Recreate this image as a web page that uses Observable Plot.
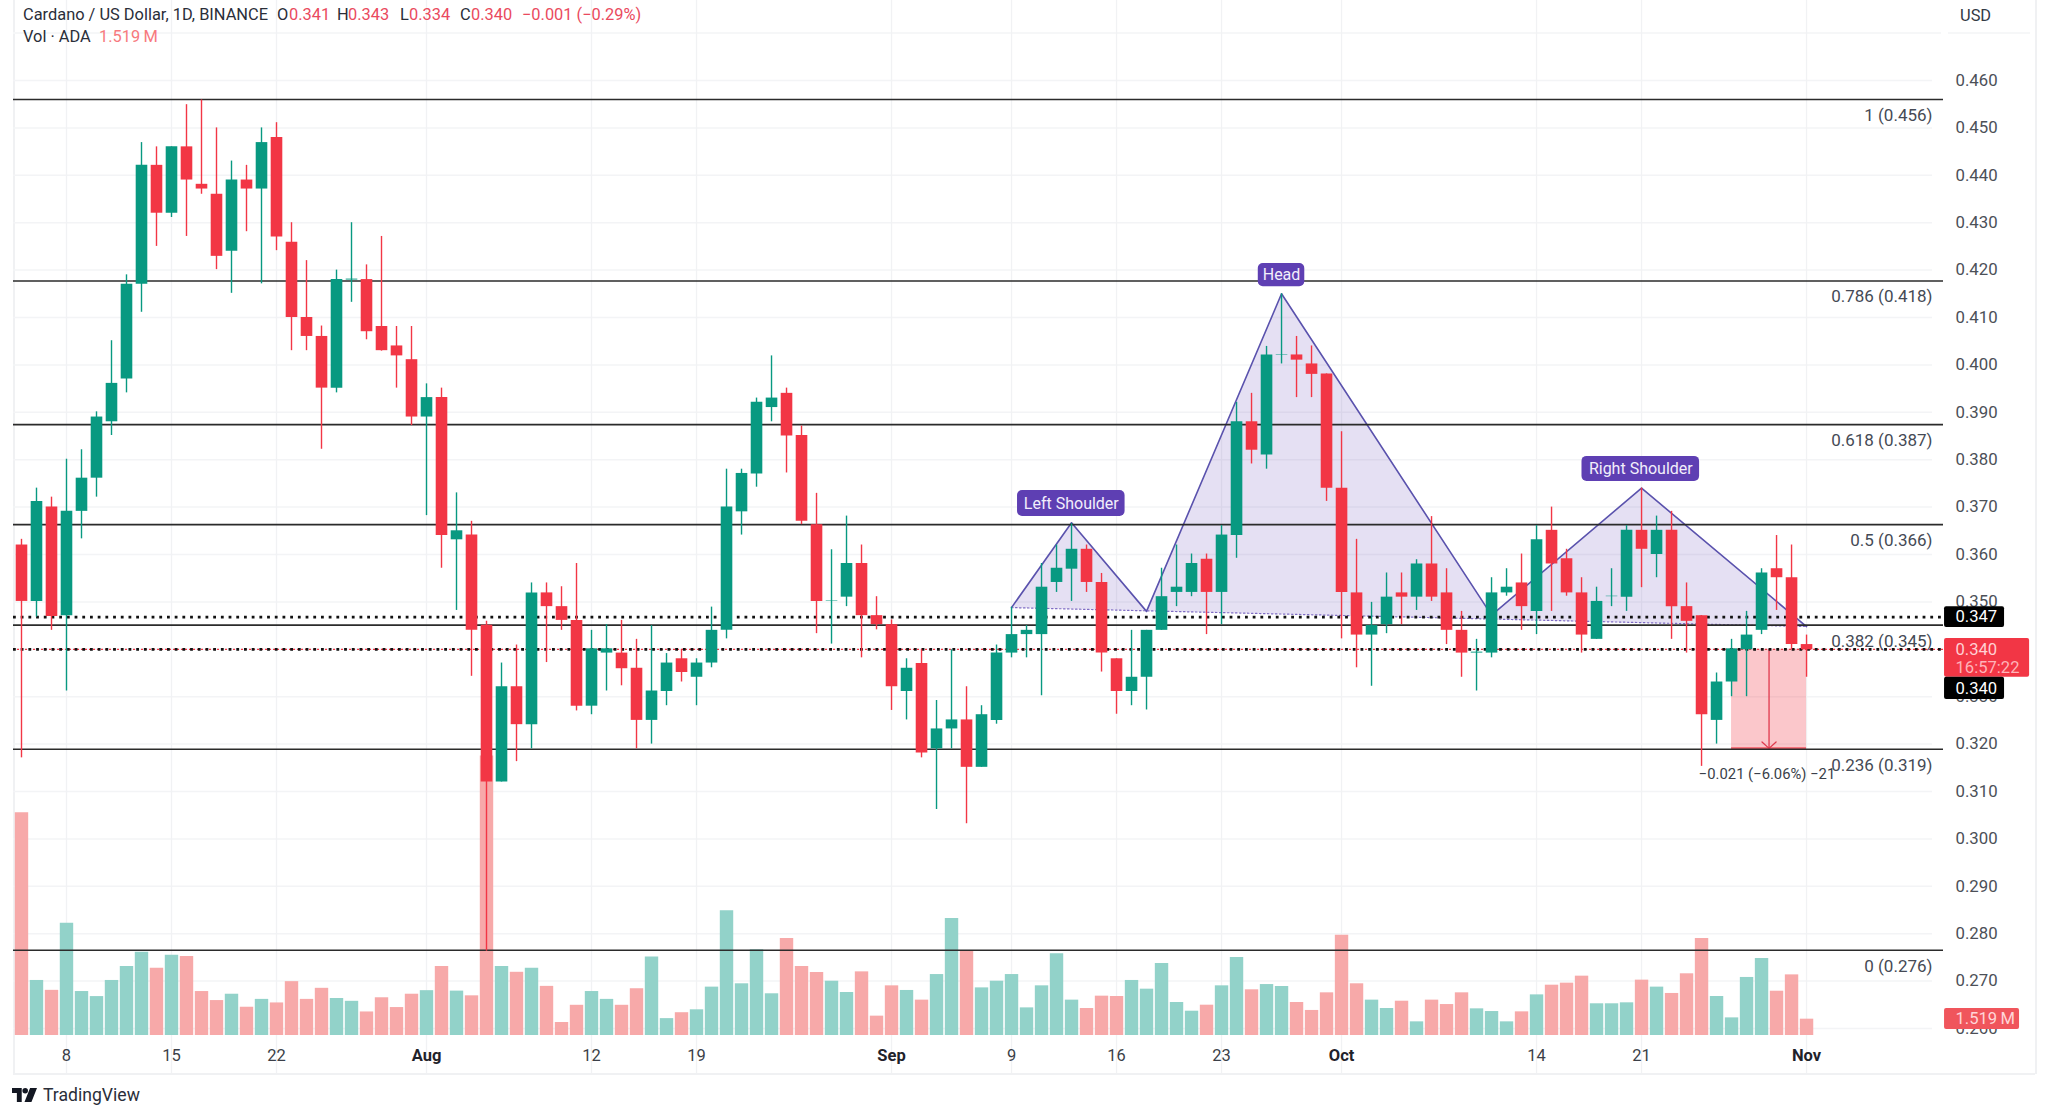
<!DOCTYPE html>
<html><head><meta charset="utf-8">
<script src="https://cdn.jsdelivr.net/npm/d3@7"></script>
<script src="https://cdn.jsdelivr.net/npm/@observablehq/plot@0.6"></script>
<style>
html,body{margin:0;padding:0;background:#fff;overflow:hidden}
#wrap{position:relative;width:2048px;height:1116px;font-family:Roboto,sans-serif;overflow:hidden}
#wrap>svg,#wrap>figure{position:absolute;left:0;top:0;margin:0}
.t{position:absolute;white-space:nowrap;font-size:16.4px;line-height:20px;color:#2a2e39}
.r{color:#ea4a5e}
.line{position:absolute;background:#f0f1f3}
</style></head><body><div id="wrap"></div>
<script>
// ---------- candles: Jul 5 (index 0) to Nov 1 (index 119), USD ----------
const open=[.3620,.3501,.3700,.3471,.3691,.3761,.3880,.3970,.4170,.4421,.4320,.4460,.4381,.4360,.4240,.4390,.4371,.4480,.4259,.4100,.4060,.3951,.4179,.4180,.4081,.4040,.4011,.3890,.3931,.3631,.3641,.3451,.3120,.3321,.3241,.3519,.3490,.3461,.3280,.3392,.3392,.3360,.3250,.3311,.3380,.3341,
.3371,.3440,.3690,.3770,.3910,.3940,.3851,.3663,.3501,.3510,.3581,.3471,.3452,.3311,.3370,.3190,.3232,.3251,.3151,.3250,.3392,.3431,.3431,.3541,.3569,.3611,.3541,.3380,.3311,.3341,.3440,.3520,.3520,.3590,.3520,.3640,.3880,.3810,.4020,.4021,.4002,.3981,.3740,.3519,
.3430,.3452,.3519,.3510,.3580,.3519,.3440,.3392,.3392,.3519,.3540,.3480,.3651,.3591,.3519,.3421,.3511,.3510,.3651,.3600,.3651,.3490,.3471,.3250,.3331,.3399,.3440,.3570,.3551,.3410];
const high=[.3632,.3740,.3721,.3801,.3821,.3901,.4051,.4190,.4469,.4460,.4460,.4549,.4559,.4500,.4430,.4421,.4500,.4511,.4300,.4220,.4082,.4200,.4300,.4211,.4271,.4081,.4081,.3960,.3951,.3730,.3670,.3459,.3371,.3409,.3540,.3540,.3532,.3581,.3440,.3452,.3461,.3421,.3450,.3391,.3399,.3380,
.3489,.3780,.3780,.3930,.4019,.3951,.3871,.3729,.3610,.3681,.3620,.3511,.3462,.3380,.3399,.3292,.3399,.3321,.3281,.3409,.3489,.3450,.3581,.3620,.3665,.3620,.3560,.3380,.3440,.3440,.3571,.3620,.3601,.3601,.3661,.3921,.3940,.4039,.4150,.4060,.4040,.3981,.3859,.3632,
.3499,.3561,.3561,.3589,.3680,.3570,.3480,.3421,.3551,.3570,.3601,.3661,.3700,.3611,.3551,.3531,.3570,.3661,.3740,.3681,.3691,.3540,.3471,.3350,.3421,.3480,.3570,.3640,.3620,.3430];
const low=[.3171,.3468,.3440,.3312,.3633,.3721,.3851,.3941,.4111,.4250,.4311,.4271,.4360,.4201,.4151,.4281,.4171,.4241,.4030,.4030,.3822,.3941,.4132,.4053,.4029,.3951,.3872,.3682,.3571,.3482,.3343,.2763,.3120,.3163,.3190,.3372,.3440,.3270,.3262,.3312,.3323,.3190,.3200,.3281,.3331,.3281,
.3361,.3422,.3641,.3742,.3880,.3772,.3663,.3433,.3411,.3490,.3382,.3441,.3271,.3251,.3171,.3062,.3190,.3032,.3151,.3242,.3382,.3382,.3302,.3520,.3501,.3520,.3352,.3263,.3281,.3272,.3440,.3490,.3511,.3431,.3452,.3592,.3791,.3780,.4002,.3931,.3931,.3712,.3422,.3361,
.3322,.3433,.3452,.3482,.3501,.3410,.3341,.3312,.3382,.3512,.3440,.3431,.3480,.3512,.3392,.3421,.3490,.3480,.3530,.3551,.3421,.3392,.3153,.3200,.3300,.3300,.3431,.3482,.3399,.3341];
const close=[.3501,.3712,.3469,.3691,.3761,.3890,.3961,.4170,.4421,.4320,.4460,.4390,.4371,.4229,.4390,.4371,.4469,.4270,.4100,.4060,.3951,.4180,.4181,.4070,.4030,.4019,.3890,.3931,.3640,.3650,.3440,.3120,.3321,.3241,.3519,.3490,.3461,.3280,.3401,.3401,.3359,.3250,.3312,.3371,.3351,.3371,
.3440,.3700,.3771,.3921,.3930,.3850,.3670,.3501,.3502,.3581,.3471,.3452,.3321,.3360,.3181,.3232,.3251,.3151,.3262,.3392,.3431,.3440,.3531,.3571,.3611,.3541,.3392,.3311,.3341,.3440,.3511,.3531,.3581,.3520,.3641,.3880,.3820,.4021,.4021,.4010,.3980,.3740,.3520,.3430,
.3450,.3510,.3510,.3580,.3510,.3440,.3392,.3394,.3519,.3531,.3490,.3631,.3580,.3519,.3430,.3501,.3512,.3651,.3611,.3651,.3490,.3459,.3262,.3331,.3401,.3430,.3561,.3551,.3410,.3399];
// ---------- volume, millions of ADA ----------
const volume=[20.72,5.12,4.20,10.45,4.09,3.62,5.12,6.43,7.75,6.25,7.46,7.35,4.09,3.25,3.84,2.63,3.36,3.03,5.01,3.36,4.39,3.44,3.18,2.19,3.51,2.60,3.84,4.17,6.43,4.13,3.69,26,6.43,5.88,6.25,4.57,1.21,2.81,4.09,3.36,2.81,4.35,7.31,1.57,2.12,2.39,
4.50,11.60,4.81,7.97,3.88,9.02,6.42,5.86,5.05,4.00,5.92,1.80,4.62,4.19,3.29,5.67,10.88,7.91,4.43,5.05,5.67,2.57,4.62,7.60,3.29,2.51,3.66,3.63,5.12,4.31,6.70,3.07,2.26,2.82,4.62,7.26,4.25,4.74,4.56,3.07,2.33,3.97,9.33,4.81,
3.29,2.51,3.19,1.27,3.29,2.88,3.97,2.48,2.23,1.27,2.20,3.78,4.68,4.87,5.52,2.95,2.95,3.04,5.15,4.50,3.91,5.74,9.02,3.63,1.64,5.40,7.16,4.12,5.64,1.519];
// ---------- axes ----------
const priceTicks=[.46,.45,.44,.43,.42,.41,.40,.39,.38,.37,.36,.35,.34,.33,.32,.31,.30,.29,.28,.27,.26];
const dayTickIndex=[3,10,17,38,45,66,73,80,101,108];
const dayTickLabel=["8","15","22","12","19","9","16","23","14","21"];
const monthTickIndex=[27,58,88,119];
const monthTickLabel=["Aug","Sep","Oct","Nov"];
// ---------- drawings ----------
const fibLevel=["1","0.786","0.618","0.5","0.382","0.236","0"];
const fibPrice=[.456,.418,.387,.366,.345,.319,.276];
const fibLine=[.4560,.4177,.3874,.3663,.3451,.3189,.2765];
const hsIndex=[66,70,75,84,98,108,119];
const hsPrice=[.3488,.3667,.3480,.4150,.3472,.3740,.3448];
const pillLabel=["Left Shoulder","Head","Right Shoulder"];
const pillX1=[66.4,82.45,104.03],pillX2=[73.57,85.55,111.87],pillY1=[.3735,.4214,.3807],pillY2=[.3680,.4165,.3754];
const measure={x1:114,x2:119,y1:.3400,y2:.3191,xm:116.5,text:"\u22120.021 (\u22126.06%) \u221221",ty:.3136};
const chipX1=[128.2,128.2,128.2,128.2],chipX2=[132.2,133.87,132.2,133.2],chipY1=[.3490,.3423,.3341,.2642],chipY2=[.3446,.3341,.3294,.2598];
const chipFill=["#000","#f23645","#000","#f0555c"];
const chipTextP=[.3468,.3400,.3362,.3317,.2621];
const chipText=["0.347","0.340","16:57:22","0.340","1.519\u2009M"];
const chipTextC=["#fff","#ffd0d3","#ffb3b8","#fff","#ffd5d8"];

const GREEN="#089981",RED="#f23645",VG="#92d2c9",VR="#f7a9a9";
const idx=[-0.533,128.13];
const W=2048,H=1116;
const yDomain=[.46+80/4740,.46-1036/4740];
const xScale={type:"linear",domain:idx,range:[13,1943],axis:null};
const base={width:W,height:H,marginTop:0,marginBottom:0,marginLeft:0,marginRight:0,
  style:{background:"transparent",fontFamily:"Roboto, sans-serif",overflow:"visible"}};
const candles=open.map((o,i)=>({i,open:o,high:high[i],low:low[i],close:close[i],volume:volume[i]}));
const up=candles.filter(d=>d.close>=d.open),down=candles.filter(d=>d.close<d.open);
const allTicks=[...dayTickIndex,...monthTickIndex];
const hs=hsIndex.map((x,k)=>({x,y:hsPrice[k]}));
const wrap=document.getElementById("wrap");

// pane borders, under everything
const el=(cls,css,txt)=>{const d=document.createElement("div");d.className=cls;d.style.cssText=css;if(txt!=null)d.textContent=txt;wrap.append(d);return d};
el("line","left:13px;top:0;width:1.5px;height:1073px");
el("line","left:13px;top:1073px;width:2022px;height:1.5px");
el("line","left:2035px;top:0;width:1.5px;height:1074px");
el("line","left:13px;top:32px;width:1928px;height:1.5px;background:#f6f7f8");
el("line","left:1948px;top:32px;width:82px;height:1.5px;background:#f6f7f8");

// layer 1: faint grid
wrap.append(Plot.plot({...base,x:xScale,y:{domain:yDomain,range:[0,H],axis:null},marks:[
  Plot.ruleY(priceTicks,{x1:idx[0],x2:127.4,stroke:"#f3f4f6",strokeWidth:1.5}),
  Plot.ruleX(allTicks,{y1:yDomain[0],y2:.2505,stroke:"#f1f2f4",strokeWidth:1.3})
]}));

// layer 2: volume
wrap.append(Plot.plot({...base,x:xScale,y:{domain:[-81/10.75,1035/10.75],range:[H,0],axis:null},marks:[
  Plot.ruleX(up,{x:"i",y1:0,y2:"volume",stroke:VG,strokeWidth:13.4}),
  Plot.ruleX(down,{x:"i",y1:0,y2:"volume",stroke:VR,strokeWidth:13.4})
]}));

// layer 3: price
const dayLab=new Map(dayTickIndex.map((d,k)=>[d,dayTickLabel[k]]));
const monLab=new Map(monthTickIndex.map((d,k)=>[d,monthTickLabel[k]]));
wrap.append(Plot.plot({...base,x:xScale,y:{domain:yDomain,range:[0,H],axis:null},marks:[
  // head and shoulders
  Plot.line(hs,{x:"x",y:"y",fill:"#5e3fb3",fillOpacity:.16,stroke:"none"}),
  Plot.line(hs,{x:"x",y:"y",stroke:"#5a52ad",strokeWidth:1.6,curve:"linear"}),
  Plot.line([hs[0],hs[6]],{x:"x",y:"y",stroke:"#7f6cc4",strokeWidth:1.2,strokeDasharray:"1.5,2.5"}),
  // measure box
  Plot.rect([measure],{x1:"x1",x2:"x2",y1:"y1",y2:"y2",fill:RED,fillOpacity:.28}),
  Plot.ruleY([measure.y2],{x1:measure.x1,x2:measure.x2,stroke:RED,strokeWidth:2,strokeOpacity:.8}),
  Plot.arrow([measure],{x1:"xm",x2:"xm",y1:"y1",y2:"y2",bend:0,stroke:"#e0394d",strokeWidth:1.3,headLength:11,headAngle:95}),
  // fib lines
  Plot.ruleY(fibLine,{x1:idx[0],x2:idx[1],stroke:"#2b2b2b",strokeWidth:1.6}),
  // dotted level lines
  Plot.ruleY([.3400],{x1:idx[0],x2:idx[1],stroke:RED,strokeWidth:1.2,strokeDasharray:"2,2"}),
  Plot.ruleY([.3468,.3400],{x1:idx[0],x2:idx[1],stroke:"#111",strokeWidth:2.8,strokeDasharray:"2.8,4.9"}),
  // candles
  Plot.ruleX(up,{x:"i",y1:"low",y2:"high",stroke:GREEN,strokeWidth:1.4}),
  Plot.ruleX(down,{x:"i",y1:"low",y2:"high",stroke:RED,strokeWidth:1.4}),
  Plot.ruleX(up,{x:"i",y1:"open",y2:"close",stroke:GREEN,strokeWidth:11.6}),
  Plot.ruleX(down,{x:"i",y1:"open",y2:"close",stroke:RED,strokeWidth:11.6}),
  // fib labels
  Plot.text(fibLevel,{x:idx[1],y:(d,k)=>fibLine[k],text:(d,k)=>`${d} (${fibPrice[k].toFixed(3)})`,textAnchor:"end",dx:-11,dy:16,fontSize:17,fill:"#454a55"}),
  Plot.text([measure],{x:"xm",y:"ty",text:"text",fontSize:14.8,fill:"#3a3f4a",dx:-2}),
  // pills
  Plot.rect(pillLabel,{x1:(d,k)=>pillX1[k],x2:(d,k)=>pillX2[k],y1:(d,k)=>pillY1[k],y2:(d,k)=>pillY2[k],fill:"#5e3fb3",rx:5}),
  Plot.text(pillLabel,{x:(d,k)=>(pillX1[k]+pillX2[k])/2,y:(d,k)=>(pillY1[k]+pillY2[k])/2,text:d=>d,fill:"#f2eefb",fontSize:16}),
  // axes
  Plot.axisY({anchor:"right",ticks:priceTicks,tickSize:0,tickPadding:0,dx:12,tickFormat:".3f",fontSize:16.8,fill:"#4c5058",label:null,textAnchor:"start",x:idx[1]}),
  Plot.axisX({anchor:"bottom",ticks:dayTickIndex,tickFormat:d=>dayLab.get(d),tickSize:0,tickPadding:0,dy:-61,fontSize:16.5,fill:"#3b3f48",label:null,lineAnchor:"middle"}),
  Plot.axisX({anchor:"bottom",ticks:monthTickIndex,tickFormat:d=>monLab.get(d),tickSize:0,tickPadding:0,dy:-61,fontSize:16.5,fontWeight:700,fill:"#1f222a",label:null,lineAnchor:"middle"}),
  // axis chips
  Plot.rect(chipFill,{x1:(d,k)=>chipX1[k],x2:(d,k)=>chipX2[k],y1:(d,k)=>chipY1[k],y2:(d,k)=>chipY2[k],fill:d=>d,rx:2}),
  Plot.text(chipText,{x:128.93,y:(d,k)=>chipTextP[k],text:d=>d,textAnchor:"start",fontSize:16.6,fill:(d,k)=>chipTextC[k]})
],color:{type:"identity"}}));

// header and footer text
[["Cardano / US Dollar, 1D, BINANCE",23,5,""],["O",277,5,""],["0.341",289,5,"r"],["H",337,5,""],["0.343",348,5,"r"],["L",400,5,""],["0.334",409,5,"r"],["C",460,5,""],["0.340",471,5,"r"],
 ["\u22120.001 (\u22120.29%)",522,5,"r"],["Vol \u00b7 ADA",23,27,""]].forEach(([s,x,y,c])=>el("t "+c,`left:${x}px;top:${y}px`,s));
el("t","left:99px;top:27px;color:#f7797e","1.519\u2009M");
el("t","left:1960px;top:6px;color:#333a45;font-size:16.4px","USD");
el("t","left:43px;top:1085px;font-size:17.6px;color:#2a2e39","TradingView");
const logo=document.createElementNS("http://www.w3.org/2000/svg","svg");
logo.setAttribute("width","25");logo.setAttribute("height","16");logo.setAttribute("viewBox","0 0 36 22");
logo.style.cssText="position:absolute;left:12px;top:1087px";
logo.innerHTML='<path fill="#131722" d="M0 1h14v20H7V8H0zM26 1h10l-8 20H18z"/><circle cx="19" cy="5" r="4" fill="#131722"/>';
wrap.append(logo);
</script></body></html>
